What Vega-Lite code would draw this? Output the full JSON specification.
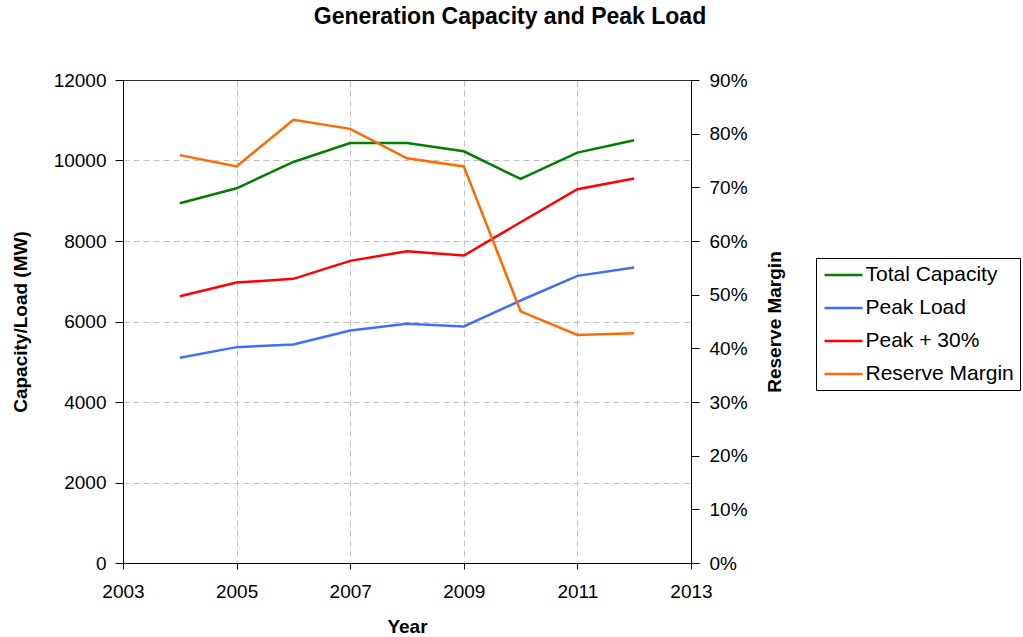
{
  "$schema": "https://vega.github.io/schema/vega-lite/v6.json",
  "width": 568,
  "height": 483,
  "autosize": {"type": "none"},
  "padding": {"left": 123, "top": 80, "right": 332, "bottom": 74},
  "background": "white",
  "title": {
    "text": "Generation Capacity and Peak Load",
    "font": "Liberation Sans",
    "fontSize": 23,
    "fontWeight": "bold",
    "color": "black",
    "anchor": "middle",
    "dx": 103,
    "offset": 42
  },
  "config": {
    "view": {"stroke": "#333333", "strokeWidth": 1},
    "axis": {
      "domainColor": "black",
      "tickColor": "black",
      "labelFont": "Liberation Sans",
      "labelFontSize": 19,
      "labelColor": "black",
      "titleFont": "Liberation Sans",
      "titleFontSize": 19,
      "titleFontWeight": "bold",
      "titleColor": "black",
      "gridWidth": 1,
      "tickSize": 8,
      "labelPadding": 9
    },
    "legend": {
      "labelFont": "Liberation Sans",
      "labelFontSize": 21,
      "labelColor": "black"
    }
  },
  "data": {
    "values": [
      {"year": 2004, "series": "Total Capacity", "value": 8938},
      {"year": 2005, "series": "Total Capacity", "value": 9310},
      {"year": 2006, "series": "Total Capacity", "value": 9964},
      {"year": 2007, "series": "Total Capacity", "value": 10436},
      {"year": 2008, "series": "Total Capacity", "value": 10436},
      {"year": 2009, "series": "Total Capacity", "value": 10229},
      {"year": 2010, "series": "Total Capacity", "value": 9542},
      {"year": 2011, "series": "Total Capacity", "value": 10196},
      {"year": 2012, "series": "Total Capacity", "value": 10502},
      {"year": 2004, "series": "Peak Load", "value": 5098},
      {"year": 2005, "series": "Peak Load", "value": 5363},
      {"year": 2006, "series": "Peak Load", "value": 5429},
      {"year": 2007, "series": "Peak Load", "value": 5777},
      {"year": 2008, "series": "Peak Load", "value": 5942},
      {"year": 2009, "series": "Peak Load", "value": 5876},
      {"year": 2010, "series": "Peak Load", "value": 6522},
      {"year": 2011, "series": "Peak Load", "value": 7134},
      {"year": 2012, "series": "Peak Load", "value": 7341},
      {"year": 2004, "series": "Peak + 30%", "value": 6629},
      {"year": 2005, "series": "Peak + 30%", "value": 6968},
      {"year": 2006, "series": "Peak + 30%", "value": 7060},
      {"year": 2007, "series": "Peak + 30%", "value": 7506},
      {"year": 2008, "series": "Peak + 30%", "value": 7746},
      {"year": 2009, "series": "Peak + 30%", "value": 7639},
      {"year": 2010, "series": "Peak + 30%", "value": 8466},
      {"year": 2011, "series": "Peak + 30%", "value": 9286},
      {"year": 2012, "series": "Peak + 30%", "value": 9551},
      {"year": 2004, "series": "Reserve Margin", "value": 0.760},
      {"year": 2005, "series": "Reserve Margin", "value": 0.739},
      {"year": 2006, "series": "Reserve Margin", "value": 0.826},
      {"year": 2007, "series": "Reserve Margin", "value": 0.809},
      {"year": 2008, "series": "Reserve Margin", "value": 0.754},
      {"year": 2009, "series": "Reserve Margin", "value": 0.739},
      {"year": 2010, "series": "Reserve Margin", "value": 0.469},
      {"year": 2011, "series": "Reserve Margin", "value": 0.425},
      {"year": 2012, "series": "Reserve Margin", "value": 0.428}
    ]
  },
  "encoding": {
    "x": {
      "field": "year",
      "type": "quantitative",
      "scale": {"domain": [2003, 2013], "nice": false, "zero": false},
      "axis": {
        "title": "Year",
        "values": [2003, 2005, 2007, 2009, 2011, 2013],
        "format": "d",
        "labelFlush": false,
        "tickSize": 6,
        "labelPadding": 13,
        "titlePadding": 16,
        "grid": true,
        "gridColor": {"condition": {"test": "datum.value === 2003 || datum.value === 2013", "value": "black"}, "value": "#c0c0c0"},
        "gridDash": {"condition": {"test": "datum.value === 2003 || datum.value === 2013", "value": []}, "value": [6, 4]}
      }
    },
    "color": {
      "field": "series",
      "type": "nominal",
      "scale": {
        "domain": ["Total Capacity", "Peak Load", "Peak + 30%", "Reserve Margin"],
        "range": ["#008000", "#3f6fff", "#ff0000", "#ff6a00"]
      },
      "legend": {
        "title": null,
        "orient": "none",
        "legendX": 693,
        "legendY": 178,
        "symbolType": "M-2,0H2",
        "symbolSize": 361,
        "symbolStrokeWidth": 2.5,
        "symbolOffset": 10.5,
        "strokeColor": "black",
        "padding": 6,
        "rowPadding": 12,
        "labelOffset": 11,
        "labelFontSize": 21
      }
    }
  },
  "layer": [
    {
      "transform": [{"filter": "datum.series !== 'Reserve Margin'"}],
      "mark": {"type": "line", "strokeWidth": 2.5},
      "encoding": {
        "y": {
          "field": "value",
          "type": "quantitative",
          "scale": {"domain": [0, 12000], "nice": false},
          "axis": {
            "title": "Capacity/Load (MW)",
            "orient": "left",
            "values": [0, 2000, 4000, 6000, 8000, 10000, 12000],
            "format": "d",
            "labelFlush": false,
            "titlePadding": 23,
            "grid": true,
            "gridColor": {"condition": {"test": "datum.value === 12000", "value": "#333333"}, "value": "#c0c0c0"},
            "gridDash": {"condition": {"test": "datum.value === 12000", "value": []}, "value": [6, 4]}
          }
        }
      }
    },
    {
      "transform": [{"filter": "datum.series === 'Reserve Margin'"}],
      "mark": {"type": "line", "strokeWidth": 2.5},
      "encoding": {
        "y": {
          "field": "value",
          "type": "quantitative",
          "scale": {"domain": [0, 0.9], "nice": false},
          "axis": {
            "title": "Reserve Margin",
            "orient": "right",
            "values": [0, 0.1, 0.2, 0.3, 0.4, 0.5, 0.6, 0.7, 0.8, 0.9],
            "format": ".0%",
            "labelFlush": false,
            "tickSize": 8,
            "labelPadding": 10,
            "titleAngle": 270,
            "titlePadding": 37,
            "grid": false
          }
        }
      }
    }
  ],
  "resolve": {"scale": {"y": "independent"}}
}
